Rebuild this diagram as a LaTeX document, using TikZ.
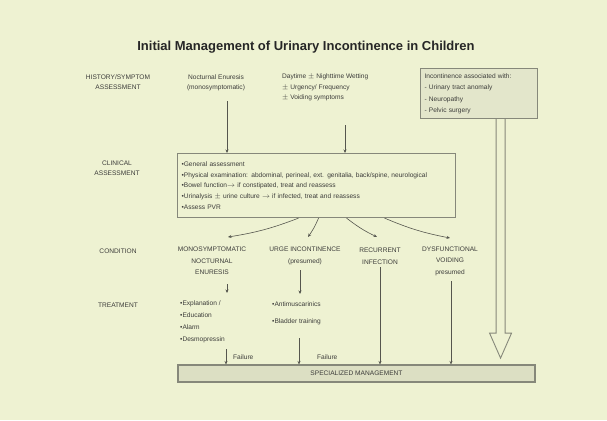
\documentclass[tikz,border=0pt]{standalone}
\usepackage{fontspec}
\setmainfont{Liberation Sans}
\usetikzlibrary{arrows.meta,calc}
\definecolor{bg}{HTML}{EEF2D2}
\definecolor{boxfill}{HTML}{E3E6CB}
\definecolor{spfill}{HTML}{DCDFC3}
\definecolor{ln}{HTML}{55564E}
\definecolor{bd}{HTML}{86887A}
\definecolor{tx}{HTML}{3C3C3A}
\begin{document}
\begin{tikzpicture}[x=1pt,y=-1pt,
  lbl/.style={font=\fontsize{6.6}{10}\selectfont, text=tx, align=center, inner sep=0pt},
  txt/.style={font=\fontsize{6.6}{11}\selectfont, text=tx, inner sep=0pt},
  arr/.style={draw=ln, line width=0.6pt, -{Stealth[length=3.5pt,width=3pt]}},
  plain/.style={draw=ln, line width=0.6pt}]
\fill[bg] (0,0) rectangle (607,420);
\useasboundingbox (0,0) rectangle (607,420);

% title
\node[font=\bfseries\fontsize{13}{15}\selectfont, text=black!85, inner sep=0pt] (title) at (306,47)
  {Initial Management of Urinary Incontinence in Children};

% row labels
\node[lbl] (lhist) at (118,82) {HISTORY/SYMPTOM\\ASSESSMENT};
\node[lbl] (lclin) at (117,168) {CLINICAL\\ASSESSMENT};
\node[lbl] (lcond) at (118,251) {CONDITION};
\node[lbl] (ltreat) at (118,305) {TREATMENT};

% history row
\node[lbl] (noc) at (216,83) {Nocturnal Enuresis\\(monosymptomatic)};
\node[txt, anchor=north west, align=left, font=\fontsize{6.6}{10.5}\selectfont] (day) at (282,74)
  {Daytime $\pm$ Nighttime Wetting\\$\pm$ Urgency/ Frequency\\$\pm$ Voiding symptoms};
\node[txt, anchor=north west, align=left, text width=109pt, inner sep=4pt,
      minimum height=50pt, draw=bd, line width=1.1pt, fill=boxfill,
      font=\fontsize{6.6}{11.5}\selectfont] (inc) at (420,68)
  {Incontinence associated with:\\- Urinary tract anomaly\\- Neuropathy\\- Pelvic surgery};

% big hollow arrow (drawn early so it lies under any text)
\coordinate (b0) at ($(inc.south)+(21.5,0)$);
\draw[draw=bd, line width=0.9pt, fill=bg, line join=miter]
  ($(b0)+(-4.5,0)$) -- ($(b0)+(-4.5,214)$) -- ($(b0)+(-11,214)$)
  -- ($(b0)+(0,239)$) -- ($(b0)+(11,214)$) -- ($(b0)+(4.5,214)$)
  -- ($(b0)+(4.5,0)$);

% clinical assessment box
\node[txt, anchor=north west, align=left, text width=270pt, inner xsep=4pt, inner ysep=3pt,
      minimum height=64pt, draw=bd, line width=1.1pt, font=\fontsize{6.6}{10.8}\selectfont] (clin) at (177,153)
  {\textbullet General assessment\\
   \textbullet Physical examination: abdominal, perineal, ext. genitalia, back/spine, neurological\\
   \textbullet Bowel function$\rightarrow$ if constipated, treat and reassess\\
   \textbullet Urinalysis $\pm$ urine culture $\rightarrow$ if infected, treat and reassess\\
   \textbullet Assess PVR};

% conditions
\node[lbl, font=\fontsize{6.6}{11.5}\selectfont] (mne) at (212,261) {MONOSYMPTOMATIC\\NOCTURNAL\\ENURESIS};
\node[lbl, font=\fontsize{6.6}{11.5}\selectfont] (urge) at (305,256) {URGE INCONTINENCE\\(presumed)};
\node[lbl, font=\fontsize{6.6}{11.5}\selectfont] (rec) at (380,256) {RECURRENT\\INFECTION};
\node[lbl, font=\fontsize{6.6}{11.5}\selectfont] (dys) at (450,261) {DYSFUNCTIONAL\\VOIDING\\presumed};

% treatments
\node[txt, anchor=north west, align=left, font=\fontsize{6.6}{11.7}\selectfont] (mnet) at (180,301)
  {\textbullet Explanation /\\\textbullet Education\\\textbullet Alarm\\\textbullet Desmopressin};
\node[txt, anchor=north west, align=left, font=\fontsize{6.6}{17}\selectfont] (urget) at (272,302)
  {\textbullet Antimuscarinics\\\textbullet Bladder training};

% specialized management
\node[lbl, draw=bd, line width=1.1pt, fill=spfill, minimum width=357pt, minimum height=17pt] (sp)
  at (356.5,373.5) {SPECIALIZED MANAGEMENT};

% arrows history -> clinical
\coordinate (n1) at (227,101);
\draw[arr] (n1) -- (n1 |- clin.north);
\coordinate (d1) at (345,125);
\draw[arr] (d1) -- (d1 |- clin.north);

% arrows clinical -> conditions
\coordinate (t1) at (228,237);
\coordinate (t2) at (308,237);
\coordinate (t3) at (377,237);
\coordinate (t4) at (450,238);
\draw[arr] ([xshift=-18pt]clin.south) to[bend left=6] (t1);
\draw[arr] ([xshift=2pt]clin.south) to[bend left=6] (t2);
\draw[arr] ([xshift=30pt]clin.south) to[bend right=6] (t3);
\draw[arr] ([xshift=68pt]clin.south) to[bend right=6] (t4);

% conditions -> treatment
\coordinate (m1) at (227,284);
\draw[arr] (m1) -- (227,293);
\coordinate (u1) at (300,270);
\draw[arr] (u1) -- (300,294);
\draw[arr] ([yshift=-3pt]rec.south) -- (rec.south |- sp.north);
\coordinate (v1) at (451,281);
\draw[arr] (v1) -- (v1 |- sp.north);

% failure
\coordinate (f1) at (226,349);
\draw[arr] (f1) -- (f1 |- sp.north);
\node[txt, anchor=west] (fl1) at (233,357) {Failure};
\coordinate (f2) at (299,338);
\draw[arr] (f2) -- (f2 |- sp.north);
\node[txt, anchor=west] (fl2) at (317,357) {Failure};
\end{tikzpicture}
\end{document}
